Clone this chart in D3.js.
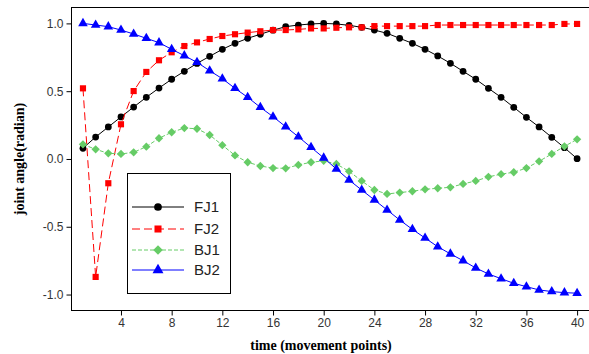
<!DOCTYPE html>
<html>
<head>
<meta charset="utf-8">
<script src="https://cdn.jsdelivr.net/npm/d3@7"></script>
<style>
html,body{margin:0;padding:0;background:#fff;}
svg{display:block;}
</style>
</head>
<body>
<svg id="chart" width="589" height="354"></svg>
<script>
const timePoints = d3.range(1, 41);
const FJ1 = [0.079,0.162,0.236,0.31,0.383,0.455,0.523,0.588,0.647,0.705,0.757,0.809,0.853,0.89,0.92,0.95,0.976,0.988,0.996,1.0,
             0.996,0.986,0.971,0.951,0.927,0.89,0.853,0.809,0.76,0.706,0.647,0.588,0.521,0.455,0.381,0.307,0.236,0.16,0.083,0.002];
const FJ2 = [0.521,-0.87,-0.179,0.256,0.501,0.642,0.728,0.787,0.833,0.86,0.885,0.907,0.92,0.932,0.942,0.951,0.951,0.956,0.963,0.963,
             0.968,0.971,0.971,0.98,0.98,0.98,0.98,0.98,0.988,0.988,0.988,0.988,0.988,0.988,0.988,0.988,0.988,0.988,0.996,0.996];
const BJ1 = [0.108,0.071,0.042,0.037,0.049,0.091,0.153,0.197,0.228,0.223,0.177,0.102,0.026,-0.024,-0.052,-0.067,-0.069,-0.044,-0.024,-0.014,
             -0.037,-0.091,-0.162,-0.229,-0.258,-0.248,-0.238,-0.224,-0.216,-0.209,-0.184,-0.162,-0.132,-0.112,-0.098,-0.067,-0.017,0.037,0.093,0.145];
const BJ2 = [1.0,0.988,0.976,0.951,0.922,0.89,0.858,0.809,0.762,0.713,0.651,0.592,0.521,0.455,0.381,0.312,0.238,0.164,0.086,0.008,
             -0.074,-0.155,-0.229,-0.302,-0.376,-0.45,-0.519,-0.583,-0.647,-0.70,-0.75,-0.804,-0.848,-0.883,-0.917,-0.942,-0.966,-0.978,-0.986,-0.99];
const xTicks = [4,8,12,16,20,24,28,32,36,40];
const yTicks = [-1.0,-0.5,0.0,0.5,1.0];
const seriesNames = ["FJ1","FJ2","BJ1","BJ2"];

const diamondType = d3.symbolDiamond2 || d3.symbolDiamond;
const series = [
  {name:"FJ1", values:FJ1, color:"#000000", dash:null, symbol:d3.symbolCircle, size:36},
  {name:"FJ2", values:FJ2, color:"#ff0000", dash:"8,4", symbol:d3.symbolSquare, size:38},
  {name:"BJ1", values:BJ1, color:"#66cc66", dash:"4,2", symbol:diamondType, size:44},
  {name:"BJ2", values:BJ2, color:"#0000ff", dash:null, symbol:d3.symbolTriangle, size:40}
];

const svg = d3.select("#chart");
const pLeft = 71, pRight = 589, pTop = 7, pBottom = 310;
const x = d3.scaleLinear().domain([0, 40.9]).range([70.3, 588.5]);
const y = d3.scaleLinear().domain([-1.114, 1.121]).range([pBottom, pTop]);

// frame
svg.append("line").attr("x1", pLeft).attr("x2", pRight).attr("y1", pTop+0.5).attr("y2", pTop+0.5)
  .attr("stroke", "#000").attr("stroke-width", 1);

const xAxis = svg.append("g").attr("transform", `translate(0,${pBottom+0.5})`)
  .call(d3.axisBottom(x).tickValues(xTicks).tickSize(5).tickSizeOuter(0).tickFormat(d3.format("d")));
const yAxis = svg.append("g").attr("transform", `translate(${pLeft+0.5},0)`)
  .call(d3.axisLeft(y).tickValues(yTicks).tickSize(5).tickSizeOuter(0).tickFormat(d3.format(".1f")));
[xAxis, yAxis].forEach(g => {
  g.select(".domain").remove();
  g.selectAll("text").attr("font-family", "Liberation Sans, Arial, sans-serif").attr("font-size", 12).attr("fill", "#333");
  g.selectAll("line").attr("stroke", "#000");
});
yAxis.selectAll("text").text(d => d3.format(".1f")(d).replace("−","-"));
svg.append("line").attr("x1", pLeft+0.5).attr("x2", pLeft+0.5).attr("y1", pTop).attr("y2", pBottom+1).attr("stroke","#000");
svg.append("line").attr("x1", pLeft).attr("x2", pRight).attr("y1", pBottom+0.5).attr("y2", pBottom+0.5).attr("stroke","#000");

// titles
svg.append("text").attr("x", 321).attr("y", 350).attr("text-anchor","middle")
  .attr("font-family","Liberation Serif, Times New Roman, serif").attr("font-weight","bold").attr("font-size",14)
  .text("time (movement points)");
svg.append("text").attr("transform","translate(24,159) rotate(-90)").attr("text-anchor","middle")
  .attr("font-family","Liberation Serif, Times New Roman, serif").attr("font-weight","bold").attr("font-size",14)
  .text("joint angle(radian)");

const line = d3.line().x((d,i) => x(timePoints[i])).y(d => y(d));

series.forEach(s => {
  const g = svg.append("g");
  g.append("path").attr("d", line(s.values)).attr("fill","none").attr("stroke", s.color)
    .attr("stroke-width", 1).attr("stroke-dasharray", s.dash);
  g.selectAll("path.m").data(s.values).enter().append("path").attr("class","m")
    .attr("transform", (d,i) => `translate(${x(timePoints[i])},${y(d)})`)
    .attr("d", d3.symbol().type(s.symbol).size(s.size)).attr("fill", s.color);
});

// legend
const lg = svg.append("g");
lg.append("rect").attr("x", 127.5).attr("y", 173.5).attr("width", 103).attr("height", 120)
  .attr("fill","#fff").attr("stroke","#000").attr("stroke-width",1);
const rowY = [207, 229, 250, 270];
series.forEach((s,i) => {
  lg.append("line").attr("x1",132).attr("x2",184).attr("y1",rowY[i]).attr("y2",rowY[i])
    .attr("stroke",s.color).attr("stroke-width",1).attr("stroke-dasharray", s.dash);
  lg.append("path").attr("transform",`translate(158,${rowY[i]})`)
    .attr("d", d3.symbol().type(s.symbol).size(s.size*1.3)).attr("fill", s.color);
  lg.append("text").attr("x",194).attr("y",rowY[i]+5).attr("font-family","Liberation Sans, Arial, sans-serif")
    .attr("font-size",15).attr("fill","#222").text(seriesNames[i]);
});
</script>
</body>
</html>
